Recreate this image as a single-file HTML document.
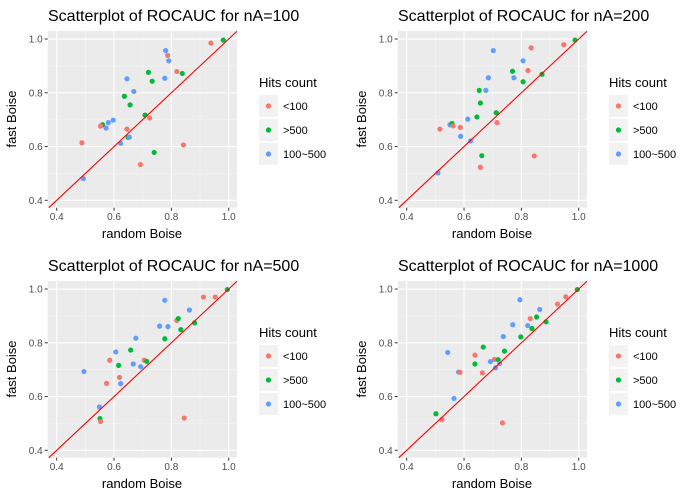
<!DOCTYPE html>
<html><head><meta charset="utf-8"><style>
body{margin:0;background:#fff;}
svg{display:block;font-family:"Liberation Sans",sans-serif;}
</style></head><body>
<svg id="c" width="700" height="500"></svg>
<script>
const titles=["Scatterplot of ROCAUC for nA=100","Scatterplot of ROCAUC for nA=200","Scatterplot of ROCAUC for nA=500","Scatterplot of ROCAUC for nA=1000"];
const legendLabels=["<100",">500","100~500"];
const groupColors=["#F8766D","#00BA38","#619CFF"];
const tickValues=[0.4,0.6,0.8,1.0];
const tickLabels=["0.4","0.6","0.8","1.0"];
const minorValues=[0.5,0.7,0.9];
const p100x=[0.780,0.787,0.791,0.938,0.981,0.819,0.838,0.777,0.720,0.733,0.645,0.669,0.636,0.656,0.708,0.724,0.597,0.580,0.560,0.553,0.572,0.645,0.649,0.653,0.623,0.488,0.740,0.842,0.692,0.493];
const p100y=[0.957,0.939,0.919,0.985,0.996,0.879,0.872,0.854,0.876,0.843,0.852,0.805,0.787,0.755,0.717,0.706,0.698,0.689,0.681,0.676,0.669,0.665,0.634,0.635,0.612,0.614,0.578,0.606,0.533,0.481];
const p100g=[2,0,2,0,1,0,1,2,1,1,2,2,1,1,1,0,2,2,1,0,2,0,1,2,2,0,1,0,0,2];
const p200x=[0.702,0.834,0.948,0.987,0.806,0.823,0.769,0.774,0.872,0.806,0.685,0.653,0.676,0.657,0.645,0.712,0.715,0.613,0.587,0.551,0.558,0.562,0.516,0.588,0.623,0.662,0.845,0.657,0.509];
const p200y=[0.957,0.967,0.979,0.996,0.919,0.883,0.880,0.856,0.869,0.841,0.856,0.809,0.809,0.762,0.710,0.726,0.689,0.702,0.671,0.681,0.686,0.677,0.665,0.638,0.621,0.566,0.565,0.523,0.502];
const p200g=[2,0,0,1,2,0,1,2,1,1,2,1,2,1,1,1,0,2,0,2,1,0,0,2,2,1,0,0,2];
const p500x=[0.777,0.912,0.953,0.995,0.863,0.819,0.824,0.759,0.788,0.881,0.833,0.777,0.676,0.658,0.606,0.585,0.705,0.714,0.667,0.616,0.693,0.495,0.619,0.574,0.623,0.549,0.551,0.553,0.845];
const p500y=[0.958,0.970,0.970,0.998,0.922,0.883,0.890,0.862,0.860,0.874,0.849,0.815,0.817,0.773,0.766,0.735,0.735,0.731,0.721,0.716,0.711,0.693,0.671,0.649,0.648,0.561,0.518,0.507,0.520];
const p500g=[2,0,0,1,2,0,1,2,2,1,1,1,2,1,2,0,0,1,2,1,2,2,0,0,2,2,1,0,0];
const p1000x=[0.795,0.955,0.926,0.995,0.864,0.831,0.853,0.770,0.822,0.886,0.837,0.737,0.798,0.667,0.543,0.638,0.741,0.706,0.719,0.692,0.638,0.724,0.710,0.664,0.581,0.586,0.565,0.502,0.523,0.734];
const p1000y=[0.960,0.971,0.944,0.998,0.924,0.890,0.896,0.867,0.864,0.878,0.853,0.823,0.822,0.784,0.764,0.754,0.769,0.738,0.737,0.730,0.721,0.723,0.707,0.688,0.691,0.690,0.593,0.536,0.514,0.502];
const p1000g=[2,0,0,1,2,0,1,2,2,1,1,2,1,1,2,0,1,0,1,2,1,2,2,0,2,0,2,1,0,0];
const panelsX=[p100x,p200x,p500x,p1000x],panelsY=[p100y,p200y,p500y,p1000y],panelsG=[p100g,p200g,p500g,p1000g];

const NS="http://www.w3.org/2000/svg",svg=document.getElementById('c');
function mk(t,a,p){const e=document.createElementNS(NS,t);for(const k in a)e.setAttribute(k,a[k]);(p||svg).appendChild(e);return e;}
const L=47.7,R=237,T=31,B=207.7;
for(let p=0;p<4;p++){
  const ox=(p%2)*350,oy=Math.floor(p/2)*250;
  const sx=v=>ox+56.7+(v-0.4)*286.7, sy=v=>oy+200.3-(v-0.4)*268.8;
  const g=mk('g',{});
  
  
  const t=mk('text',{x:ox+48,y:oy+21,'font-size':16,fill:'#000'},g);t.textContent=titles[p];
  
  const bg=mk('rect',{x:ox+L,y:oy+T,width:R-L,height:B-T,fill:'#EBEBEB'},g);
  
  minorValues.forEach(v=>{
    mk('line',{x1:sx(v),x2:sx(v),y1:oy+T,y2:oy+B,stroke:'#F5F5F5','stroke-width':0.6},g);
    mk('line',{x1:ox+L,x2:ox+R,y1:sy(v),y2:sy(v),stroke:'#F5F5F5','stroke-width':0.6},g);
  });
  tickValues.forEach((v,i)=>{
    mk('line',{x1:sx(v),x2:sx(v),y1:oy+T,y2:oy+B,stroke:'#fff','stroke-width':1.1},g);
    mk('line',{x1:ox+L,x2:ox+R,y1:sy(v),y2:sy(v),stroke:'#fff','stroke-width':1.1},g);
    mk('line',{x1:sx(v),x2:sx(v),y1:oy+B,y2:oy+B+3,stroke:'#333'},g);
    mk('line',{x1:ox+L-3,x2:ox+L,y1:sy(v),y2:sy(v),stroke:'#333'},g);
    const xl=mk('text',{x:sx(v),y:oy+B+12.5,'font-size':10,fill:'#4D4D4D','text-anchor':'middle'},g);xl.textContent=tickLabels[i];
    
    const yl=mk('text',{x:ox+L-5,y:sy(v)+3.5,'font-size':10,fill:'#4D4D4D','text-anchor':'end'},g);yl.textContent=tickLabels[i];
    
  });
  const xs=panelsX[p],ys=panelsY[p],gs=panelsG[p];
  for(let i=0;i<xs.length;i++){
    const c=mk('circle',{cx:sx(xs[i]),cy:sy(ys[i]),r:2.6,fill:groupColors[gs[i]]},g);
    
    
  }
  const lo=Math.max(0.4+(L-56.7)/286.7,0.4+(200.3-B)/268.8), hi=Math.min(0.4+(R-56.7)/286.7,0.4+(200.3-T)/268.8);
  const ln=mk('line',{x1:sx(lo),y1:sy(lo),x2:sx(hi),y2:sy(hi),stroke:'#FF0000','stroke-width':1.1},g);
  
  const xt=mk('text',{x:ox+142,y:oy+238,'font-size':13,fill:'#000','text-anchor':'middle'},g);xt.textContent='random Boise';
  
  const yt=mk('text',{x:0,y:0,'font-size':13,fill:'#000','text-anchor':'middle',transform:`translate(${ox+16},${oy+119}) rotate(-90)`},g);yt.textContent='fast Boise';
  
  const lt=mk('text',{x:ox+259,y:oy+87,'font-size':13,fill:'#000'},g);lt.textContent='Hits count';
  
  legendLabels.forEach((lab,i)=>{
    const cy=oy+106+i*24;
    const lg=mk('g',{},g);
    
    mk('rect',{x:ox+259,y:cy-11,width:19,height:22,fill:'#F2F2F2'},lg);
    mk('circle',{cx:ox+268.5,cy:cy,r:2.6,fill:groupColors[i]},lg);
    const tx=mk('text',{x:ox+283,y:cy+4,'font-size':11,fill:'#000'},lg);tx.textContent=lab;
  });
}
</script>
</body></html>
